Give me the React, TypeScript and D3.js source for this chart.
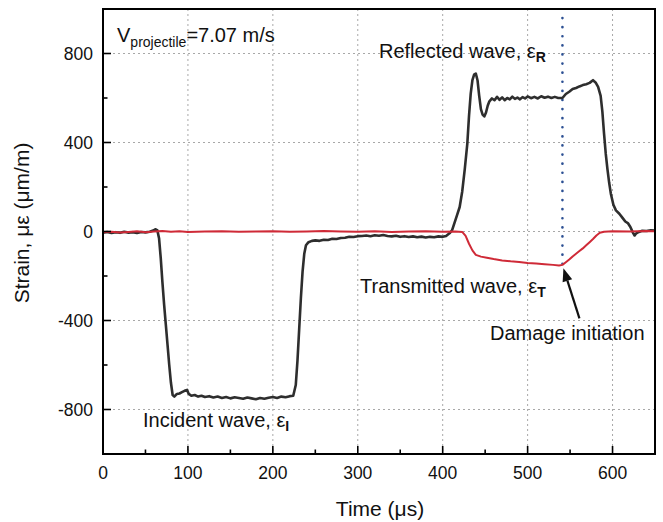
import React from "react";
import * as d3 from "d3";

// ---- data ----
const blackTimes = [0,5,10,15,20,25,30,35,40,45,50,55,59,62,64,66,68,70,72,74,76,78,80,82,84,87,90,93,96,99,101,104,108,112,116,120,125,130,135,140,145,150,155,160,165,170,175,180,185,190,195,200,205,210,215,220,224,227,229,231,233,235,237,239,242,246,250,255,260,265,270,275,280,285,290,295,300,305,310,315,320,325,330,335,340,345,350,355,360,365,370,375,380,385,390,395,400,404,408,411,414,417,420,423,426,429,431,433,435,437,439,441,443,445,447,449,451,453,455,458,461,464,467,470,473,476,479,482,485,488,491,494,497,500,504,508,512,516,520,524,528,532,536,541,545,549,553,557,561,565,569,573,577,580,583,586,588,590,592,594,596,598,601,604,608,612,615,618,621,624,626,628,631,635,640,645,650];
const blackStrain = [-5,-2,-7,-3,-6,-1,-5,-3,-7,-2,-4,-1,4,10,5,-30,-120,-230,-330,-420,-510,-600,-680,-735,-742,-730,-728,-722,-716,-712,-730,-738,-735,-742,-738,-744,-740,-746,-742,-748,-744,-750,-745,-748,-752,-746,-750,-754,-748,-752,-747,-744,-748,-742,-745,-740,-738,-690,-580,-440,-300,-180,-100,-62,-48,-42,-40,-42,-37,-38,-33,-34,-29,-28,-24,-25,-21,-20,-18,-21,-17,-19,-16,-20,-22,-19,-24,-21,-25,-22,-26,-23,-27,-24,-26,-22,-24,-20,-8,5,40,75,110,180,280,395,520,620,680,705,710,680,610,550,525,517,535,565,585,598,590,605,592,603,590,600,594,606,596,602,594,604,598,607,599,605,598,608,601,606,600,605,600,600,618,628,640,645,652,658,662,668,680,670,650,610,540,440,350,280,220,170,120,95,80,60,45,38,20,-5,-18,-8,-2,3,2,5,4];

const redTimes = [0,10,20,30,40,50,60,70,80,90,100,120,140,160,180,200,220,240,260,280,300,320,340,360,380,400,415,423,427,431,435,439,445,452,460,470,480,490,500,510,520,530,537,541,545,549,553,557,561,565,569,573,577,581,585,590,600,620,640,650];
const redStrain = [-3,-1,-5,-2,1,-3,0,2,-1,1,-2,0,1,-1,0,1,-1,0,2,0,-1,1,-2,0,1,-1,0,-2,-20,-55,-85,-105,-113,-118,-124,-130,-134,-137,-142,-144,-147,-150,-153,-150,-138,-126,-112,-100,-88,-76,-62,-48,-34,-18,-6,-1,1,0,2,1];

const xMajorTicks = [0, 100, 200, 300, 400, 500, 600];
const xMinorTicks = [50, 150, 250, 350, 450, 550];
const yMajorTicks = [-800, -400, 0, 400, 800];
const yMinorTicks = [-600, -200, 200, 600];
const damageTime = 541;
const damageStrain = -152;

const W = 663, H = 522;
const M = { left: 103, top: 9, right: 655, bottom: 454 };
const FONT = "'Liberation Sans', Arial, Helvetica, sans-serif";

export default function App() {
  const x = d3.scaleLinear().domain([0, 650]).range([M.left, M.right]);
  const y = d3.scaleLinear().domain([-1000, 1000]).range([M.bottom, M.top]);

  const black = blackTimes.map((t, i) => [t, blackStrain[i]] as [number, number]);
  const red = redTimes.map((t, i) => [t, redStrain[i]] as [number, number]);
  const line = d3.line<[number, number]>().x(d => x(d[0])).y(d => y(d[1])).curve(d3.curveLinear);

  const gridColor = "#a8a8a8";
  const ax = { x0: x(damageTime) + 17, y0: y(damageStrain) + 53, x1: x(damageTime) + 1, y1: y(damageStrain) + 3 };
  const ang = Math.atan2(ax.y1 - ax.y0, ax.x1 - ax.x0);
  const hl = 13, hw = 5;
  const bx = ax.x1 - hl * Math.cos(ang), by = ax.y1 - hl * Math.sin(ang);
  const head = `${ax.x1},${ax.y1} ${bx + hw * Math.sin(ang)},${by - hw * Math.cos(ang)} ${bx - hw * Math.sin(ang)},${by + hw * Math.cos(ang)}`;

  return (
    <svg width={W} height={H} style={{ position: "absolute", left: 0, top: 0, background: "#fff" }} fontFamily={FONT}>
      <rect x={0} y={0} width={W} height={H} fill="#fff" />
      {/* grid */}
      {xMajorTicks.filter(t => t > 0).map(t => (
        <line key={"gx" + t} x1={x(t)} x2={x(t)} y1={M.top} y2={M.bottom} stroke={gridColor} strokeWidth={1} strokeDasharray="2,3" />
      ))}
      {yMajorTicks.map(t => (
        <line key={"gy" + t} x1={M.left} x2={M.right} y1={y(t)} y2={y(t)} stroke={gridColor} strokeWidth={1} strokeDasharray="2,3" />
      ))}
      {/* damage dotted line */}
      <line x1={x(damageTime)} x2={x(damageTime)} y1={18} y2={y(damageStrain)} stroke="#2b4f93" strokeWidth={2.6} strokeDasharray="0.1,9" strokeLinecap="round" />
      {/* curves */}
      <path d={line(black) || ""} fill="none" stroke="#2e2e2e" strokeWidth={2.6} strokeLinejoin="round" />
      <path d={line(red) || ""} fill="none" stroke="#cf2a37" strokeWidth={2} strokeLinejoin="round" />
      {/* frame */}
      <rect x={M.left} y={M.top} width={M.right - M.left} height={M.bottom - M.top} fill="none" stroke="#000" strokeWidth={2} />
      {/* ticks */}
      {xMajorTicks.map(t => (
        <g key={"xt" + t}>
          <line x1={x(t)} x2={x(t)} y1={M.bottom} y2={M.bottom - 8} stroke="#000" strokeWidth={1.6} />
          <text x={x(t)} y={479} textAnchor="middle" fontSize={17.5} fill="#111">{t}</text>
        </g>
      ))}
      {xMinorTicks.map(t => (
        <line key={"xm" + t} x1={x(t)} x2={x(t)} y1={M.bottom} y2={M.bottom - 4.5} stroke="#000" strokeWidth={1.6} />
      ))}
      {yMajorTicks.map(t => (
        <g key={"yt" + t}>
          <line x1={M.left} x2={M.left + 8} y1={y(t)} y2={y(t)} stroke="#000" strokeWidth={1.6} />
          <text x={93} y={y(t) + 6} textAnchor="end" fontSize={17.5} fill="#111">{t}</text>
        </g>
      ))}
      {yMinorTicks.map(t => (
        <line key={"ym" + t} x1={M.left} x2={M.left + 4.5} y1={y(t)} y2={y(t)} stroke="#000" strokeWidth={1.6} />
      ))}
      {/* axis titles */}
      <text x={380} y={516} textAnchor="middle" fontSize={21} fill="#111">Time (μs)</text>
      <text transform="translate(29,223) rotate(-90)" textAnchor="middle" fontSize={21} fill="#111">Strain, με (μm/m)</text>
      {/* annotations */}
      <text x={117} y={42} fontSize={20} fill="#111">V<tspan fontSize={14} dy={5}>projectile</tspan><tspan dy={-5}>=7.07 m/s</tspan></text>
      <text x={379} y={58} fontSize={20} fill="#111">Reflected wave, ε<tspan fontSize={14} dy={4} fontWeight="bold">R</tspan></text>
      <text x={360} y={293} fontSize={20} fill="#111">Transmitted wave, ε<tspan fontSize={14} dy={4} fontWeight="bold">T</tspan></text>
      <text x={490} y={340} fontSize={20} fill="#111">Damage initiation</text>
      <text x={143} y={427} fontSize={20} fill="#111">Incident wave, ε<tspan fontSize={14} dy={4} fontWeight="bold">I</tspan></text>
      {/* arrow */}
      <line x1={ax.x0} y1={ax.y0} x2={bx} y2={by} stroke="#111" strokeWidth={2.2} />
      <polygon points={head} fill="#111" />
    </svg>
  );
}
